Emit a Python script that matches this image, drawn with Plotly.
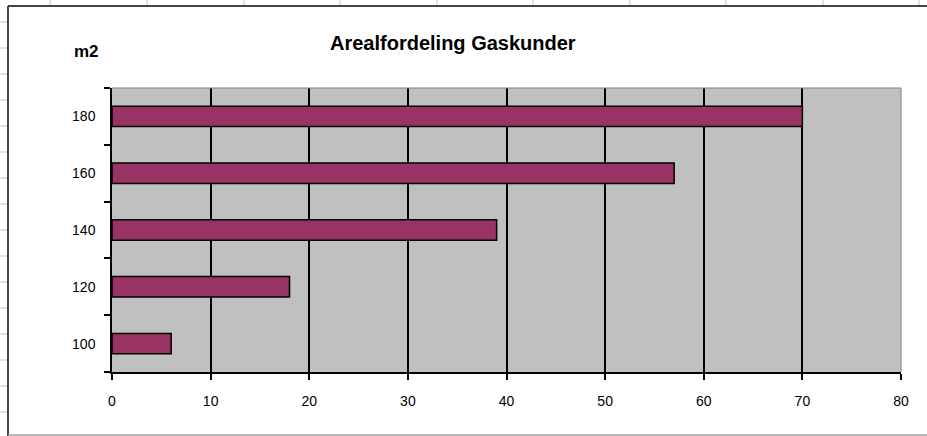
import plotly.graph_objects as go

categories = ["100", "120", "140", "160", "180"]
values = [6, 18, 39, 57, 70]
x_ticks = [0, 10, 20, 30, 40, 50, 60, 70, 80]

W, H = 927, 436
L, R, T, B = 112, 901, 88, 372  # plot area in pixels


def px(x):
    return (x - L) / (R - L)


def py(y):
    return (B - y) / (B - T)


fig = go.Figure()
fig.add_trace(go.Bar(
    y=categories, x=values, orientation="h",
    marker=dict(color="#993366", line=dict(color="black", width=1.5)),
    hoverinfo="x+y",
))

shapes = []
grid_col = "#c4c4c4"
# spreadsheet grid remnants (top strip)
for gx in [50, 147, 244, 340, 437, 533, 630, 726, 823, 919]:
    shapes.append(dict(type="line", xref="paper", yref="paper",
                       x0=px(gx), x1=px(gx), y0=py(0), y1=py(5),
                       line=dict(color=grid_col, width=1)))
# left strip
for k in range(17):
    gy = 22 + 26 * k
    shapes.append(dict(type="line", xref="paper", yref="paper",
                       x0=px(0), x1=px(7), y0=py(gy), y1=py(gy),
                       line=dict(color=grid_col, width=1)))
# chart border
shapes.append(dict(type="line", xref="paper", yref="paper",
                   x0=px(8), x1=px(930), y0=py(6), y1=py(6),
                   line=dict(color="#444444", width=2)))
shapes.append(dict(type="line", xref="paper", yref="paper",
                   x0=px(8), x1=px(8), y0=py(6), y1=py(440),
                   line=dict(color="#444444", width=2)))
shapes.append(dict(type="line", xref="paper", yref="paper",
                   x0=px(8), x1=px(930), y0=py(435), y1=py(435),
                   line=dict(color="#a0a0a0", width=1.5)))
# plot area gray border (top & right)
shapes.append(dict(type="line", xref="paper", yref="paper",
                   x0=0, x1=1, y0=1, y1=1,
                   line=dict(color="#808080", width=1)))
shapes.append(dict(type="line", xref="paper", yref="paper",
                   x0=1, x1=1, y0=0, y1=1,
                   line=dict(color="#808080", width=1)))

fig.update_layout(
    width=W, height=H,
    margin=dict(l=L, r=W - R, t=T, b=H - B),
    paper_bgcolor="white",
    plot_bgcolor="#C0C0C0",
    showlegend=False,
    bargap=0.64,
    font=dict(family="Liberation Sans, Arial, sans-serif", size=14, color="#000000"),
    shapes=shapes,
    annotations=[
        dict(text="<b>Arealfordeling Gaskunder</b>", xref="paper", yref="paper",
             x=px(453), y=py(43), showarrow=False,
             font=dict(size=20, color="#000000"), xanchor="center", yanchor="middle"),
        dict(text="<b>m2</b>", xref="paper", yref="paper",
             x=px(72), y=py(52), showarrow=False,
             font=dict(size=17, color="#000000"), xanchor="left", yanchor="middle"),
    ],
    xaxis=dict(
        range=[0, 80], tickvals=x_ticks, ticktext=[str(v) for v in x_ticks],
        showgrid=True, gridcolor="black", gridwidth=1.5,
        showline=True, linecolor="black", linewidth=1.5,
        ticks="outside", ticklen=6, tickcolor="black", tickwidth=1.5,
        ticklabelstandoff=9,
        zeroline=False, fixedrange=True,
    ),
    yaxis=dict(
        type="category", categoryorder="array", categoryarray=categories,
        range=[-0.5, 4.5],
        showgrid=False,
        showline=True, linecolor="black", linewidth=1.5,
        ticks="outside", ticklen=6, tickcolor="black", tickwidth=1.5,
        tickson="boundaries", ticklabelstandoff=12,
        zeroline=False, fixedrange=True,
    ),
)

fig.write_html(
    "out.html",
    config={"displayModeBar": False},
    post_script="document.body.style.margin='0';document.body.style.overflow='hidden';",
)
